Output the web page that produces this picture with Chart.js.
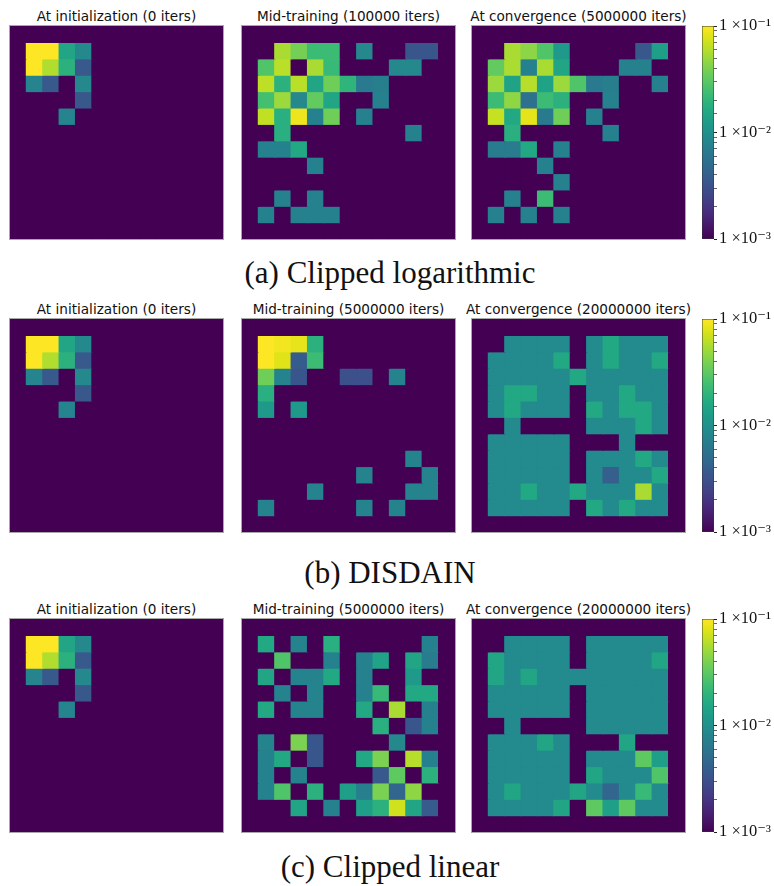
<!DOCTYPE html>
<html>
<head>
<meta charset="utf-8">
<script src="https://cdn.jsdelivr.net/npm/chart.js@4.4.1/dist/chart.umd.min.js"></script>
<style>
  html, body { margin: 0; padding: 0; background: #fff; }
  body { position: relative; width: 774px; height: 886px; overflow: hidden; }
  .panel { position: absolute; width: 213px; height: 213px; outline: 1px solid #a8a8a8; }
  .panel canvas, .cbar canvas { display: block; }
  .cbar { position: absolute; }
  .ttl { position: absolute; font-family: 'DejaVu Sans', sans-serif; font-size: 13.6px; line-height: 1;
         color: #111; white-space: nowrap; transform: translateX(-50%); }
  .cap { position: absolute; font-family: 'Liberation Serif', 'DejaVu Serif', serif; font-size: 31px; line-height: 1;
         color: #111; white-space: nowrap; transform: translateX(-50%); }
</style>
</head>
<body>
<script>
// ---- visit-frequency grids (13 x 13 gridworld, row 0 at the top) ----
const GRID_INIT = [
  [0,0,0,0,0,0,0,0,0,0,0,0,0],
  [0,.1,.1,.015,.0085,0,0,0,0,0,0,0,0],
  [0,.1,.058,.019,.0036,0,0,0,0,0,0,0,0],
  [0,.008,.0036,0,.0085,0,0,0,0,0,0,0,0],
  [0,0,0,0,.0035,0,0,0,0,0,0,0,0],
  [0,0,0,.008,0,0,0,0,0,0,0,0,0],
  [0,0,0,0,0,0,0,0,0,0,0,0,0],
  [0,0,0,0,0,0,0,0,0,0,0,0,0],
  [0,0,0,0,0,0,0,0,0,0,0,0,0],
  [0,0,0,0,0,0,0,0,0,0,0,0,0],
  [0,0,0,0,0,0,0,0,0,0,0,0,0],
  [0,0,0,0,0,0,0,0,0,0,0,0,0],
  [0,0,0,0,0,0,0,0,0,0,0,0,0]
];

const GRID_LOG_MID = [
  [0,0,0,0,0,0,0,0,0,0,0,0,0],
  [0,0,.055,.038,.023,.023,0,.0085,0,0,.0034,.0034,0],
  [0,.028,.062,0,.055,.022,0,0,0,.0085,.0085,0,0],
  [0,.063,.019,.062,.015,.036,.02,.0066,.0072,0,0,0,0],
  [0,.025,.05,.0085,.033,.015,0,0,.0075,0,0,0,0],
  [0,.065,.018,.09,.0075,.036,0,.0075,0,0,0,0,0],
  [0,0,.018,0,0,0,0,0,0,0,.0075,0,0],
  [0,.0075,.0075,.016,0,0,0,0,0,0,0,0,0],
  [0,0,0,0,.0075,0,0,0,0,0,0,0,0],
  [0,0,0,0,0,0,0,0,0,0,0,0,0],
  [0,0,.0075,0,.0075,0,0,0,0,0,0,0,0],
  [0,.0075,0,.0075,.0075,.0075,0,0,0,0,0,0,0],
  [0,0,0,0,0,0,0,0,0,0,0,0,0]
];

const GRID_LOG_CONV = [
  [0,0,0,0,0,0,0,0,0,0,0,0,0],
  [0,0,.055,.045,.028,.012,0,0,0,0,.0035,.013,0],
  [0,.033,.056,.0075,.055,.015,0,0,0,.0075,.0075,0,0],
  [0,.05,.014,.06,.014,.05,.028,.0066,.0072,0,0,.0075,0],
  [0,.023,.046,.0055,.023,.019,0,0,.0075,0,0,0,0],
  [0,.067,.016,.083,.0065,.036,0,.0075,0,0,0,0,0],
  [0,0,.018,0,0,0,0,0,.0075,0,0,0,0],
  [0,.0068,.0068,.016,0,.0075,0,0,0,0,0,0,0],
  [0,0,0,0,.0075,0,0,0,0,0,0,0,0],
  [0,0,0,0,0,.0075,0,0,0,0,0,0,0],
  [0,0,.0075,0,.023,0,0,0,0,0,0,0,0],
  [0,.0075,0,.0075,0,.0075,0,0,0,0,0,0,0],
  [0,0,0,0,0,0,0,0,0,0,0,0,0]
];

const GRID_DISDAIN_MID = [
  [0,0,0,0,0,0,0,0,0,0,0,0,0],
  [0,.1,.092,.085,.019,0,0,0,0,0,0,0,0],
  [0,.1,.08,.0038,.023,0,0,0,0,0,0,0,0],
  [0,.036,.0078,.0034,0,0,.0031,.0031,0,.0078,0,0,0],
  [0,.018,0,0,0,0,0,0,0,0,0,0,0],
  [0,.012,0,.012,0,0,0,0,0,0,0,0,0],
  [0,0,0,0,0,0,0,0,0,0,0,0,0],
  [0,0,0,0,0,0,0,0,0,0,0,0,0],
  [0,0,0,0,0,0,0,0,0,0,.0078,0,0],
  [0,0,0,0,0,0,0,.0078,0,0,0,.0078,0],
  [0,0,0,0,.0078,0,0,0,0,0,.0078,.0078,0],
  [0,.0078,0,0,0,0,0,.0078,0,.0078,0,0,0],
  [0,0,0,0,0,0,0,0,0,0,0,0,0]
];

const GRID_DISDAIN_CONV = [
  [0,0,0,0,0,0,0,0,0,0,0,0,0],
  [0,0,.0088,.0088,.0088,.0088,0,.0088,.016,.0088,.0088,.0088,0],
  [0,.0088,.0088,.0088,.0088,.016,0,.0088,.016,.0088,.0088,.016,0],
  [0,.0088,.0088,.0088,.0088,.0088,.016,.0088,.0088,.0088,.0088,.0088,0],
  [0,.0088,.016,.016,.0088,.0088,0,.0088,.0088,.016,.0088,.0088,0],
  [0,.0088,.016,.0088,.0088,.0088,0,.016,.0088,.016,.016,.0088,0],
  [0,0,.0088,0,0,0,0,.0088,.0088,.0088,.016,.0088,0],
  [0,.0088,.0088,.0088,.0088,.0088,0,0,0,.0088,0,0,0],
  [0,.0088,.0088,.0088,.0088,.0088,0,.0088,.0088,.0088,.016,.0088,0],
  [0,.0088,.0088,.0088,.0088,.0088,0,.0088,.004,.0088,.0088,.016,0],
  [0,.0088,.0088,.016,.0088,.0088,.016,.0088,.0088,.0088,.055,.0088,0],
  [0,.0088,.0088,.0088,.0088,.0088,0,.016,.0088,.016,.0088,.0088,0],
  [0,0,0,0,0,0,0,0,0,0,0,0,0]
];

const GRID_LIN_MID = [
  [0,0,0,0,0,0,0,0,0,0,0,0,0],
  [0,.016,0,.0078,0,.018,0,0,0,0,0,.0075,0],
  [0,0,.028,0,0,.0075,0,.0075,.0145,0,.015,.0068,0],
  [0,.015,0,.0078,.0078,.016,0,.0075,0,0,.012,0,0],
  [0,0,.0078,0,.0078,0,0,.0075,.022,0,.016,.016,0],
  [0,.016,0,.0078,.0078,0,0,.016,0,.055,0,.0075,0],
  [0,0,0,0,0,0,0,0,.018,0,.0034,.0075,0],
  [0,.0078,0,.04,.0034,0,0,0,0,.0085,0,0,0],
  [0,.0075,.016,0,.0034,0,0,.016,.04,0,.06,.0075,0],
  [0,.0075,0,.0078,0,0,0,0,.0036,.032,0,.019,0],
  [0,.0075,.028,0,.019,0,.013,.0072,.04,.0045,.046,0,0],
  [0,0,0,.015,0,.0075,0,.013,.019,.072,.015,.0037,0],
  [0,0,0,0,0,0,0,0,0,0,0,0,0]
];

const GRID_LIN_CONV = [
  [0,0,0,0,0,0,0,0,0,0,0,0,0],
  [0,0,.0088,.0088,.0088,.0088,0,.0088,.0088,.0088,.0088,.0088,0],
  [0,.015,.0088,.0088,.0088,.0088,0,.0088,.0088,.0088,.0088,.015,0],
  [0,.015,.0088,.015,.0088,.0088,.0088,.0088,.0088,.0088,.0088,.0088,0],
  [0,.0088,.0088,.0088,.0088,.0088,0,.0088,.0088,.0088,.0088,.0088,0],
  [0,.0088,.0088,.0088,.0088,.0088,0,.0088,.0088,.0088,.0088,.0088,0],
  [0,0,.0088,0,0,0,0,.0088,.0088,.0088,.0088,.0088,0],
  [0,.0088,.0088,.0088,.015,.0088,0,0,0,.015,0,0,0],
  [0,.0088,.0088,.0088,.0088,.0088,0,.0088,.0088,.0088,.032,.013,0],
  [0,.0088,.0088,.0088,.0088,.0088,0,.015,.0088,.0088,.0088,.028,0],
  [0,.0088,.015,.0088,.0088,.0088,.015,.0088,.0045,.0088,.022,.0088,0],
  [0,.0088,.0088,.0088,.0088,.015,0,.032,.013,.032,.0088,.0088,0],
  [0,0,0,0,0,0,0,0,0,0,0,0,0]
];

// ---- titles, captions, colour scale ----
const COL_TITLES = [
  ['At initialization (0 iters)', 'Mid-training (100000 iters)', 'At convergence (5000000 iters)'],
  ['At initialization (0 iters)', 'Mid-training (5000000 iters)', 'At convergence (20000000 iters)'],
  ['At initialization (0 iters)', 'Mid-training (5000000 iters)', 'At convergence (20000000 iters)']
];
const CAPTIONS = ['(a) Clipped logarithmic', '(b) DISDAIN', '(c) Clipped linear'];
const FIG_GRIDS = [
  [GRID_INIT, GRID_LOG_MID, GRID_LOG_CONV],
  [GRID_INIT, GRID_DISDAIN_MID, GRID_DISDAIN_CONV],
  [GRID_INIT, GRID_LIN_MID, GRID_LIN_CONV]
];
const CB_MIN = 1e-3, CB_MAX = 1e-1;
const CB_TICK_LABELS = { '-3': '1 ×10⁻³', '-2': '1 ×10⁻²', '-1': '1 ×10⁻¹' };

// viridis, sampled every 5%
const VIRIDIS = ['#440154','#471365','#482475','#463480','#414487','#3b528b','#355f8d','#2f6c8e',
  '#2a788e','#25848e','#21918c','#1e9c89','#22a884','#2fb47c','#44bf70','#5ec962','#7ad151',
  '#9bd93c','#bddf26','#dfe318','#fde725'];

// ---- layout (px) ----
const COL_X = [10, 242, 472];
const ROW_Y = [26, 319, 619];
const PANEL = 213;
const CB_X = 702, CB_W = 12, CB_PAD = 12;
const CAP_BASE = [283, 583, 877];

function hexToRgb(h) { return [1,3,5].map(i => parseInt(h.slice(i, i + 2), 16)); }
const VIR_RGB = VIRIDIS.map(hexToRgb);

function colorFor(v) {
  if (!(v > 0)) return VIRIDIS[0];
  const lo = Math.log10(CB_MIN), hi = Math.log10(CB_MAX);
  let t = (Math.log10(v) - lo) / (hi - lo);
  t = Math.max(0, Math.min(1, t));
  const p = t * (VIR_RGB.length - 1);
  const i = Math.min(Math.floor(p), VIR_RGB.length - 2);
  const f = p - i;
  const a = VIR_RGB[i], b = VIR_RGB[i + 1];
  const c = a.map((x, k) => Math.round(x + (b[k] - x) * f));
  return `rgb(${c[0]},${c[1]},${c[2]})`;
}

function addDiv(cls, text, left, top) {
  const d = document.createElement('div');
  d.className = cls;
  d.textContent = text;
  d.style.left = left + 'px';
  d.style.top = top + 'px';
  document.body.appendChild(d);
  return d;
}

// One stacked bar per grid column; each dataset is one grid row, one unit tall.
function heatmap(left, top, grid) {
  const wrap = document.createElement('div');
  wrap.className = 'panel';
  wrap.style.left = left + 'px';
  wrap.style.top = top + 'px';
  const cv = document.createElement('canvas');
  cv.width = PANEL; cv.height = PANEL;
  wrap.appendChild(cv);
  document.body.appendChild(wrap);
  const cols = grid[0].map((_, c) => String(c));
  new Chart(cv, {
    type: 'bar',
    data: {
      labels: cols,
      datasets: grid.map((row, r) => ({
        label: 'row ' + r,
        data: row.map(() => 1),
        backgroundColor: row.map(colorFor),
        borderWidth: 0,
        inflateAmount: 0.6,
        barPercentage: 1,
        categoryPercentage: 1
      }))
    },
    options: {
      responsive: false,
      animation: false,
      layout: { padding: 0 },
      plugins: { legend: { display: false }, tooltip: { enabled: false } },
      scales: {
        x: { display: false, stacked: true },
        y: { display: false, stacked: true, min: 0, max: grid.length, reverse: true }
      }
    }
  });
}

function colorbar(top) {
  const wrap = document.createElement('div');
  wrap.className = 'cbar';
  wrap.style.left = CB_X + 'px';
  wrap.style.top = (top - CB_PAD) + 'px';
  const cv = document.createElement('canvas');
  cv.width = 774 - CB_X; cv.height = PANEL + 2 * CB_PAD;
  wrap.appendChild(cv);
  document.body.appendChild(wrap);
  new Chart(cv, {
    type: 'bar',
    data: {
      labels: [''],
      datasets: [{
        data: [[CB_MIN, CB_MAX]],
        backgroundColor: (ctx) => {
          const a = ctx.chart.chartArea;
          if (!a) return VIRIDIS[10];
          const g = ctx.chart.ctx.createLinearGradient(0, a.bottom, 0, a.top);
          VIRIDIS.forEach((c, i) => g.addColorStop(i / (VIRIDIS.length - 1), c));
          return g;
        },
        borderColor: '#333',
        borderWidth: 0.8,
        borderSkipped: false,
        barPercentage: 1,
        categoryPercentage: 1
      }]
    },
    options: {
      responsive: false,
      animation: false,
      layout: { padding: { top: CB_PAD, bottom: CB_PAD, left: 0, right: 0 } },
      plugins: { legend: { display: false }, tooltip: { enabled: false } },
      scales: {
        x: { display: false },
        y: {
          type: 'logarithmic',
          position: 'right',
          min: CB_MIN, max: CB_MAX,
          afterFit: (s) => { s.width = 774 - CB_X - CB_W; },
          border: { display: false },
          grid: { drawOnChartArea: false, drawTicks: true, tickLength: 3, tickColor: '#222',
                  tickWidth: (c) => (c.tick && c.tick.major ? 1 : 0.7) },
          ticks: {
            autoSkip: false,
            padding: 2,
            color: '#111',
            font: { family: "'Liberation Serif','DejaVu Serif',serif", size: 16.5 },
            callback: (v) => {
              const e = Math.log10(v);
              return Math.abs(e - Math.round(e)) < 1e-6 ? (CB_TICK_LABELS[String(Math.round(e))] || '') : '';
            }
          }
        }
      }
    }
  });
}

ROW_Y.forEach((y, r) => {
  COL_X.forEach((x, c) => {
    addDiv('ttl', COL_TITLES[r][c], x + PANEL / 2, y - 16.4);
    heatmap(x, y, FIG_GRIDS[r][c]);
  });
  colorbar(y);
  addDiv('cap', CAPTIONS[r], 390, CAP_BASE[r] - 26);
});
</script>
</body>
</html>
